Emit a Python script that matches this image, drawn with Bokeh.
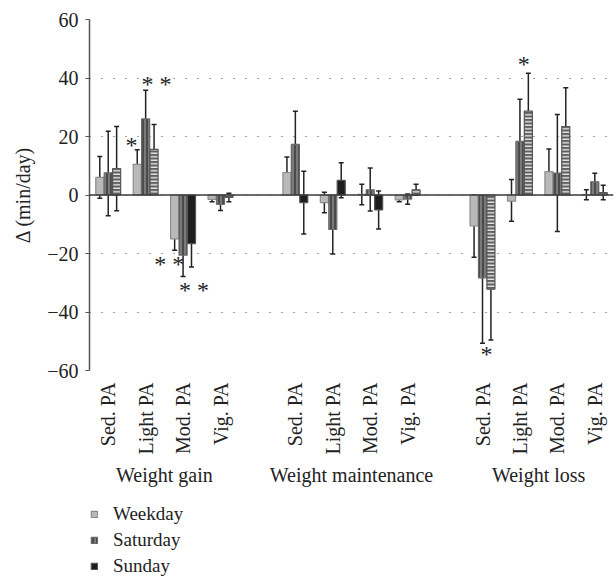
import numpy as np
from bokeh.plotting import figure
from bokeh.layouts import column
from bokeh.models import (ColumnDataSource, FactorRange, Range1d, Whisker, Span, Legend,
                          LegendItem, SingleIntervalTicker, TeeHead, CustomJSTickFormatter)
from bokeh.transform import dodge
from bokeh.core.properties import value
from bokeh.embed import file_html
from bokeh.resources import INLINE

# ---------------- data ----------------
groups = ["Weight gain", "Weight maintenance", "Weight loss"]
activities = ["Sed. PA", "Light PA", "Mod. PA", "Vig. PA"]
factors = [(g, a) for g in groups for a in activities]

weekday = [6.0, 10.5, -15.0, -1.5, 7.7, -2.6, 0.2, -1.7, -10.6, -2.1, 8.0, 0.1]
weekday_lo = [-1.1, 5.4, -18.9, -2.3, 2.0, -6.1, -3.3, -2.3, -21.3, -9.0, 0.2, -1.6]
weekday_hi = [13.2, 15.5, -10.7, -0.2, 13.0, 0.9, 3.7, -0.8, 0.0, 5.3, 15.7, 1.8]

saturday = [7.6, 26.0, -20.6, -3.2, 17.3, -11.8, 1.8, -1.4, -28.3, 18.3, 7.5, 4.5]
saturday_lo = [-7.1, 16.2, -27.9, -5.3, 6.0, -20.2, -5.5, -3.2, -50.7, 3.9, -12.5, 1.6]
saturday_hi = [21.8, 35.8, -12.8, -1.0, 28.6, -3.4, 9.2, 0.3, -5.5, 32.7, 27.5, 7.4]

sunday = [9.0, 15.6, -16.6, -0.8, -2.6, 5.0, -5.1, 1.8, -32.2, 28.7, 23.4, 0.8]
sunday_lo = [-5.4, 7.1, -24.6, -2.3, -13.3, -0.9, -11.6, -0.1, -49.6, 15.8, 10.1, -1.6]
sunday_hi = [23.4, 24.1, -1.7, 0.6, 8.1, 11.0, 1.4, 3.7, -14.2, 41.6, 36.7, 3.3]

series_names = ["Weekday", "Saturday", "Sunday"]

# significance markers: category, text, y value
star_cats = [("Weight gain", "Light PA"), ("Weight gain", "Light PA"),
             ("Weight gain", "Mod. PA"), ("Weight gain", "Mod. PA"),
             ("Weight loss", "Light PA"), ("Weight loss", "Sed. PA")]
star_text = ["*", "* *", "* *", "* *", "*", "*"]
star_y = [17.7, 38.5, -22.9, -31.8, 45.4, -53.7]

# ---------------- styles ----------------
FONT = "Liberation Serif"
star_dx = [-0.38, 0.29, -0.37, 0.29, 0.10, 0.11]
# Sunday bars: striped (True) or solid black (False), as in the original
sunday_striped = [True, True, False, True, False, False, False, True, True, True, True, True]

WD = dict(fill_color="#b9b9b9", line_color="#8c8c8c", line_width=1.2)
SA = dict(fill_color="#7a7a7a", line_color="#6a6a6a", line_width=1.2,
          hatch_pattern="|", hatch_color="#2a2a2a", hatch_scale=4, hatch_weight=1.2)
SU_SOLID = dict(fill_color="#1e1e1e", line_color="#555555", line_width=1.2)

p = figure(x_range=FactorRange(*factors, factor_padding=0, group_padding=1.0, range_padding=0),
           y_range=Range1d(-60, 60),
           frame_width=524, frame_height=351,
           output_backend="svg", toolbar_location=None,
           min_border_top=19, min_border_left=89, min_border_right=1, min_border_bottom=129)
p.outline_line_color = None
p.background_fill_color = "white"
p.border_fill_color = "white"

off = [-0.225, 0.0, 0.225]
bw = 0.215

src_wd = ColumnDataSource(dict(x=factors, v=weekday, lo=weekday_lo, hi=weekday_hi))
src_sa = ColumnDataSource(dict(x=factors, v=saturday, lo=saturday_lo, hi=saturday_hi))
src_su = ColumnDataSource(dict(
    x=factors, v=sunday, lo=sunday_lo, hi=sunday_hi,
    fc=["#5e5e5e" if s else "#1e1e1e" for s in sunday_striped],
    hp=["-" if s else " " for s in sunday_striped]))

p.vbar(x=dodge("x", off[0], range=p.x_range), top="v", bottom=0, width=bw, source=src_wd, **WD)
p.vbar(x=dodge("x", off[1], range=p.x_range), top="v", bottom=0, width=bw, source=src_sa, **SA)
p.vbar(x=dodge("x", off[2], range=p.x_range), top="v", bottom=0, width=bw, source=src_su,
       fill_color="fc", line_color="#555555", line_width=1.2,
       hatch_pattern="hp", hatch_color="white", hatch_scale=3.5, hatch_weight=1.2)

for s, o in zip([src_wd, src_sa, src_su], off):
    w = Whisker(base=dodge("x", o, range=p.x_range), lower="lo", upper="hi", source=s,
                dimension="height", line_color="#222222", line_width=1.5,
                upper_head=TeeHead(size=5, line_color="#222222", line_width=1.5),
                lower_head=TeeHead(size=5, line_color="#222222", line_width=1.5))
    p.add_layout(w)

# zero line
p.add_layout(Span(location=0, dimension="width", line_color="#3a3a3a", line_width=1.6))

# significance asterisks
src_st = ColumnDataSource(dict(x=[(c[0], c[1], d) for c, d in zip(star_cats, star_dx)],
                               y=star_y, t=star_text))
p.text(x="x", y="y", text="t", source=src_st,
       text_font=value(FONT), text_font_size="24px", text_align="center",
       text_baseline="middle", y_offset=2, text_color="#222222")

# y axis
p.yaxis.ticker = SingleIntervalTicker(interval=20)
p.yaxis.formatter = CustomJSTickFormatter(
    code="return (tick < 0 ? '\u2212' : '') + Math.abs(tick).toFixed(0);")
p.yaxis.axis_label = "\u0394 (min/day)"
p.yaxis.axis_label_text_font = FONT
p.yaxis.axis_label_text_font_size = "20px"
p.yaxis.axis_label_text_font_style = "normal"
p.yaxis.axis_label_text_color = "#222222"
p.yaxis.axis_label_standoff = 10
p.yaxis.major_label_text_font = FONT
p.yaxis.major_label_text_font_size = "20px"
p.yaxis.major_label_text_color = "#222222"
p.yaxis.axis_line_color = "#555555"
p.yaxis.axis_line_width = 1.5
p.yaxis.major_tick_line_color = "#555555"
p.yaxis.major_tick_out = 4
p.yaxis.major_tick_in = 0
p.yaxis.minor_tick_line_color = None
p.yaxis.major_label_standoff = 7

# x axis
p.xaxis.axis_line_color = None
p.xaxis.major_tick_line_color = None
p.xaxis.minor_tick_line_color = None
p.xaxis.major_label_orientation = np.pi / 2
p.xaxis.major_label_text_font = FONT
p.xaxis.major_label_text_font_size = "20px"
p.xaxis.major_label_text_color = "#222222"
p.xaxis.major_label_standoff = 6
p.xaxis.group_text_font = FONT
p.xaxis.group_text_font_size = "20px"
p.xaxis.group_text_font_style = "normal"
p.xaxis.group_text_color = "#222222"
p.xaxis.group_label_orientation = "parallel"
p.xaxis.separator_line_color = None

# grid
p.xgrid.grid_line_color = None
p.ygrid.grid_line_color = "#444444"
p.ygrid.grid_line_dash = "1 11"
p.ygrid.grid_line_width = 1.2

# ---------------- legend (own strip below the chart) ----------------
lg = figure(width=614, height=78, x_range=Range1d(0, 1), y_range=Range1d(0, 1),
            x_axis_location=None, y_axis_location=None,
            output_backend="svg", toolbar_location=None,
            min_border=0, outline_line_color=None)
lg.grid.visible = False
# key swatches only: an undrawn sample so the legend can render each style
swatch = ColumnDataSource(dict(x=[float("nan")], top=[float("nan")]))
l_wd = lg.vbar(x="x", top="top", width=0.1, source=swatch, **WD)
l_sa = lg.vbar(x="x", top="top", width=0.1, source=swatch, **SA)
l_su = lg.vbar(x="x", top="top", width=0.1, source=swatch, **SU_SOLID)
legend = Legend(items=[LegendItem(label=series_names[0], renderers=[l_wd]),
                       LegendItem(label=series_names[1], renderers=[l_sa]),
                       LegendItem(label=series_names[2], renderers=[l_su])],
                orientation="vertical", location=(1, 0),
                glyph_width=8, glyph_height=8, label_standoff=15, spacing=4,
                label_text_font=FONT, label_text_font_size="19px", label_text_color="#222222",
                label_height=20, padding=0, margin=0, border_line_color=None,
                background_fill_alpha=0)
lg.add_layout(legend)

layout = column(p, lg, spacing=0)
open("out.html", "w").write(file_html(layout, INLINE))
